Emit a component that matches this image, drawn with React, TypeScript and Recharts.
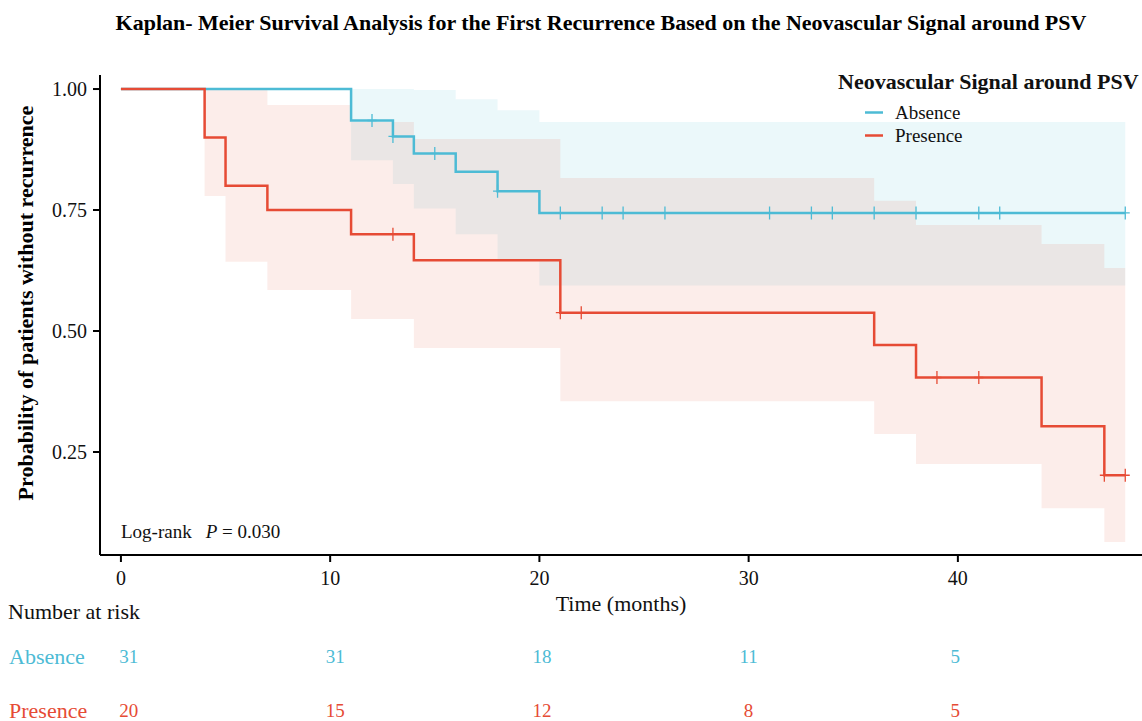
import React from 'react'
import {
  Area,
  ComposedChart,
  Customized,
  Legend,
  Line,
  Scatter,
  XAxis,
  YAxis,
} from 'recharts'

const absenceTimes = [0, 11, 13, 14, 16, 18, 20, 48]
const absenceSurv = [1, 0.935, 0.902, 0.867, 0.829, 0.789, 0.744, 0.744]
const absenceCiTimes = [11, 13, 14, 16, 18, 20, 48]
const absenceCiLow = [0.853, 0.804, 0.753, 0.7, 0.649, 0.594, 0.594]
const absenceCiHigh = [1, 1, 0.998, 0.979, 0.956, 0.932, 0.932]
const absenceCensored = [12, 13, 15, 18, 21, 23, 24, 26, 31, 33, 34, 36, 38, 41, 42, 48]

const presenceTimes = [0, 4, 5, 7, 11, 14, 21, 36, 38, 44, 47, 48]
const presenceSurv = [1, 0.9, 0.8, 0.75, 0.7, 0.646, 0.538, 0.471, 0.404, 0.303, 0.202, 0.202]
const presenceCiTimes = [4, 5, 7, 11, 14, 21, 36, 38, 44, 47, 48]
const presenceCiLow = [0.779, 0.643, 0.585, 0.525, 0.465, 0.355, 0.287, 0.225, 0.134, 0.064, 0.064]
const presenceCiHigh = [1, 1, 0.967, 0.932, 0.897, 0.816, 0.769, 0.719, 0.68, 0.63, 0.63]
const presenceCensored = [13, 21, 22, 39, 41, 47, 48]

const riskTimes = [0, 10, 20, 30, 40]
const riskAbsence = [31, 31, 18, 11, 5]
const riskPresence = [20, 15, 12, 8, 5]

const xTicks = [0, 10, 20, 30, 40]
const yTicks = [0.25, 0.5, 0.75, 1]

const BLUE = '#4DBBD5'
const RED = '#E64B35'
const SERIF = "'Liberation Serif', 'Times New Roman', serif"

// value of a KM step curve at time t
const survAt = (times: number[], surv: number[], t: number) => {
  let v = surv[0]
  times.forEach((time, i) => {
    if (time <= t) v = surv[i]
  })
  return v
}

const toCurve = (times: number[], surv: number[]) => times.map((t, i) => ({ t, s: surv[i] }))
const toBand = (times: number[], lo: number[], hi: number[]) =>
  times.map((t, i) => ({ t, ci: [lo[i], hi[i]] }))
const toCensor = (cens: number[], times: number[], surv: number[]) =>
  cens.map((t) => ({ t, s: survAt(times, surv, t) }))

const absenceCurve = toCurve(absenceTimes, absenceSurv)
const presenceCurve = toCurve(presenceTimes, presenceSurv)
const absenceBand = toBand(absenceCiTimes, absenceCiLow, absenceCiHigh)
const presenceBand = toBand(presenceCiTimes, presenceCiLow, presenceCiHigh)
const absenceMarks = toCensor(absenceCensored, absenceTimes, absenceSurv)
const presenceMarks = toCensor(presenceCensored, presenceTimes, presenceSurv)

const riskRows = [
  ...riskTimes.map((t, i) => ({ t, row: 0, n: riskAbsence[i] })),
  ...riskTimes.map((t, i) => ({ t, row: 1, n: riskPresence[i] })),
]
const rowLabels = ['Absence', 'Presence']
const rowColors = [BLUE, RED]

const censorShape = (color: string) => (props: any) => {
  const { cx, cy } = props
  if (cx == null || cy == null) return <g />
  return (
    <path
      d={`M${cx - 4.5},${cy}H${cx + 4.5}M${cx},${cy - 6.5}V${cy + 6.5}`}
      stroke={color}
      strokeWidth={1.3}
      fill="none"
    />
  )
}

const LegendBox = (props: any) => {
  const items = (props.payload || []).filter((p: any) => p.type !== 'none')
  return (
    <div style={{ fontFamily: SERIF, color: '#111' }}>
      <div style={{ fontWeight: 'bold', fontSize: 22, lineHeight: '26px', whiteSpace: 'nowrap' }}>
        Neovascular Signal around PSV
      </div>
      <div style={{ marginTop: 6, paddingLeft: 27 }}>
        {items.map((item: any) => (
          <div key={item.value} style={{ display: 'flex', alignItems: 'center', height: 23 }}>
            <svg width={30} height={23}>
              <line x1={0} x2={18} y1={11.5} y2={11.5} stroke={item.color} strokeWidth={2.5} />
            </svg>
            <span style={{ fontSize: 19 }}>{item.value}</span>
          </div>
        ))}
      </div>
    </div>
  )
}

const Annotations = () => (
  <g fontFamily={SERIF}>
    <text x={601} y={22} textAnchor="middle" dominantBaseline="central" fontSize={22} fontWeight="bold" fill="#000">
      Kaplan- Meier Survival Analysis for the First Recurrence Based on the Neovascular Signal around PSV
    </text>
    <text
      x={25}
      y={303}
      transform="rotate(-90, 25, 303)"
      textAnchor="middle"
      dominantBaseline="central"
      fontSize={22}
      fontWeight="bold"
      fill="#000"
    >
      Probability of patients without recurrence
    </text>
    <text x={121} y={531} dominantBaseline="central" fontSize={19} fill="#111">
      <tspan>Log-rank</tspan>
      <tspan dx={14} fontStyle="italic">P</tspan>
      <tspan> = 0.030</tspan>
    </text>
  </g>
)

const TableTitle = () => (
  <text x={8} y={21} dominantBaseline="central" fontSize={22} fontFamily={SERIF} fill="#111">
    Number at risk
  </text>
)

const RowTick = (props: any) => {
  const { y, payload } = props
  const i = payload.value
  return (
    <text x={9} y={y} dominantBaseline="central" fontSize={22} fontFamily={SERIF} fill={rowColors[i]}>
      {rowLabels[i]}
    </text>
  )
}

const riskShape = (props: any) => {
  const { cx, cy, payload } = props
  return (
    <text
      x={cx}
      y={cy}
      textAnchor="middle"
      dominantBaseline="central"
      fontSize={19}
      fontFamily={SERIF}
      fill={rowColors[payload.row]}
    >
      {payload.n}
    </text>
  )
}

export default function App() {
  const axisStroke = { stroke: '#000', strokeWidth: 2 }
  const tickFont = { fill: '#111', fontSize: 20, fontFamily: SERIF }
  return (
    <div style={{ position: 'relative', width: 1142, height: 721, background: '#fff', fontFamily: SERIF }}>
      <style>{'body{margin:0}'}</style>
      <div style={{ position: 'absolute', left: 0, top: 0 }}>
        <ComposedChart width={1142} height={620} margin={{ top: 75, right: 0, bottom: 0, left: 0 }}>
          <XAxis
            type="number"
            dataKey="t"
            domain={[-1, 48.8]}
            allowDataOverflow
            ticks={xTicks}
            height={65}
            tickSize={7}
            tickMargin={9}
            axisLine={axisStroke}
            tickLine={axisStroke}
            tick={tickFont}
            label={{ value: 'Time (months)', position: 'insideBottom', offset: 9, fontSize: 22, fill: '#111', fontFamily: SERIF }}
          />
          <YAxis
            type="number"
            dataKey="s"
            domain={[0.0372, 1.029]}
            allowDataOverflow
            ticks={yTicks}
            tickFormatter={(v: number) => v.toFixed(2)}
            width={100}
            tickSize={7}
            tickMargin={6}
            axisLine={axisStroke}
            tickLine={axisStroke}
            tick={tickFont}
          />
          <Area
            data={absenceBand}
            dataKey="ci"
            type="stepAfter"
            stroke="none"
            fill={BLUE}
            fillOpacity={0.11}
            legendType="none"
            isAnimationActive={false}
          />
          <Area
            data={presenceBand}
            dataKey="ci"
            type="stepAfter"
            stroke="none"
            fill={RED}
            fillOpacity={0.1}
            legendType="none"
            isAnimationActive={false}
          />
          <Line
            data={absenceCurve}
            dataKey="s"
            name="Absence"
            type="stepAfter"
            stroke={BLUE}
            strokeWidth={2.5}
            dot={false}
            isAnimationActive={false}
          />
          <Line
            data={presenceCurve}
            dataKey="s"
            name="Presence"
            type="stepAfter"
            stroke={RED}
            strokeWidth={2.5}
            dot={false}
            isAnimationActive={false}
          />
          <Scatter
            data={absenceMarks}
            dataKey="s"
            shape={censorShape(BLUE)}
            legendType="none"
            isAnimationActive={false}
          />
          <Scatter
            data={presenceMarks}
            dataKey="s"
            shape={censorShape(RED)}
            legendType="none"
            isAnimationActive={false}
          />
          <Legend
            layout="vertical"
            align="center"
            verticalAlign="middle"
            content={LegendBox}
            wrapperStyle={{ position: 'absolute', top: 69, left: 838, width: 304 }}
          />
          <Customized component={<Annotations />} />
        </ComposedChart>
      </div>
      <div style={{ position: 'absolute', left: 0, top: 590 }}>
        <ComposedChart width={1142} height={131} margin={{ top: 66, right: 5, bottom: 11, left: 0 }}>
          <XAxis type="number" dataKey="t" domain={[-1, 48.8]} allowDataOverflow hide />
          <YAxis
            type="number"
            dataKey="row"
            domain={[0, 1]}
            ticks={[0, 1]}
            reversed
            width={108}
            axisLine={false}
            tickLine={false}
            tick={<RowTick />}
          />
          <Scatter data={riskRows} dataKey="row" shape={riskShape} isAnimationActive={false} />
          <Customized component={<TableTitle />} />
        </ComposedChart>
      </div>
    </div>
  )
}
